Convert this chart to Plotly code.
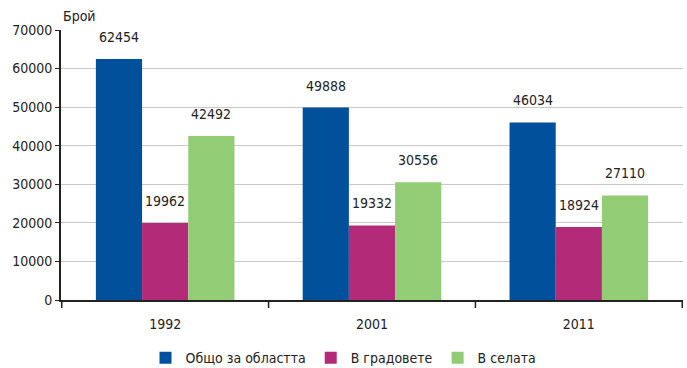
import plotly.graph_objects as go

years = ["1992", "2001", "2011"]
total = [62454, 49888, 46034]
towns = [19962, 19332, 18924]
villages = [42492, 30556, 27110]
series_names = ["Общо за областта", "В градовете", "В селата"]
colors = ["#00509b", "#b22a78", "#92cc74"]

FONT = "DejaVu Sans Condensed, Liberation Sans Narrow, sans-serif"

fig = go.Figure()
annotations = []
for i, (name, vals, col) in enumerate(zip(series_names, [total, towns, villages], colors)):
    fig.add_trace(go.Bar(
        x=years, y=vals, name=name, marker=dict(color=col, line=dict(width=0)),
        offsetgroup=str(i),
    ))

# value labels above each bar
offsets = [-1, 0, 1]
for off, vals in zip(offsets, [total, towns, villages]):
    for j, v in enumerate(vals):
        annotations.append(dict(
            x=j + off * 0.223, y=v, xref="x", yref="y", text=str(v),
            showarrow=False, yanchor="middle", yshift=22,
            font=dict(family=FONT, size=14, color="#222"),
        ))

annotations.append(dict(text="Брой", xref="paper", yref="paper", x=0, y=1,
                        xanchor="left", yanchor="bottom", yshift=4, showarrow=False,
                        font=dict(family=FONT, size=14, color="#222")))

fig.update_layout(
    width=687, height=368,
    margin=dict(l=61, r=4, t=30, b=68, autoexpand=False),
    paper_bgcolor="white", plot_bgcolor="white",
    barmode="group", bargap=0.33, bargroupgap=0,
    font=dict(family=FONT, size=14, color="#222"),
    showlegend=True,
    legend=dict(orientation="h", x=0.5, xanchor="center", xref="container",
                y=-0.275, yanchor="bottom", yref="paper",
                bgcolor="rgba(0,0,0,0)",
                font=dict(family=FONT, size=14), tracegroupgap=0),
    xaxis=dict(type="category", showline=True, linecolor="#222", linewidth=2, ticks="",
               tickfont=dict(family=FONT, size=14), ticklabelstandoff=10),
    yaxis=dict(range=[0, 70000], dtick=10000, showgrid=True, gridcolor="#c8c8c8",
               gridwidth=1, showline=True, linecolor="#222", linewidth=2,
               ticks="outside", ticklen=4, tickcolor="#222", zeroline=False,
               tickfont=dict(family=FONT, size=14), tickformat="d"),
    annotations=annotations,
)

# category boundary ticks below the x axis
for xb in [-0.5, 0.5, 1.5, 2.5]:
    fig.add_shape(type="line", xref="x", yref="paper", x0=xb, x1=xb, y0=0, y1=-0.03,
                  line=dict(color="#222", width=1.5))

fig.write_html("out.html")
